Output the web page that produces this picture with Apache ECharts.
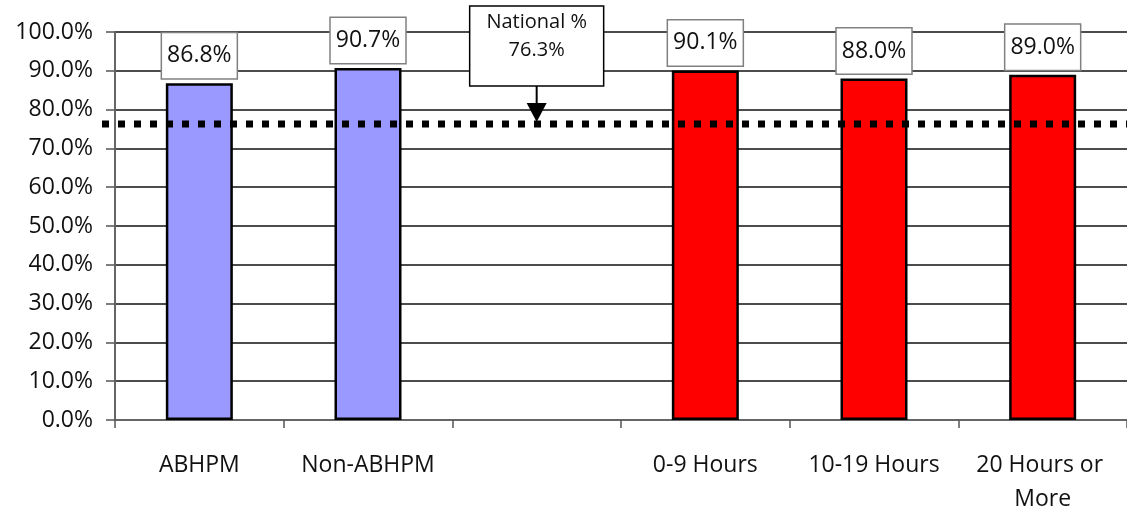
<!DOCTYPE html>
<html>
<head>
<meta charset="utf-8">
<script src="https://cdn.jsdelivr.net/npm/echarts@6/dist/echarts.min.js"></script>
<style>
  html, body { margin: 0; padding: 0; background: #fff; }
  #chart { width: 1127px; height: 509px; }
</style>
</head>
<body>
<div id="chart"></div>
<script>
// Categories along the x axis (the third slot is an empty spacer between groups)
const categories = ['ABHPM', 'Non-ABHPM', '', '0-9 Hours', '10-19 Hours', '20 Hours or More'];
// Percentage by provider type
const providerValues = [86.8, 90.7, null, null, null, null];
// Percentage by weekly hours
const hoursValues = [null, null, null, 90.1, 88.0, 89.0];
// National reference percentage and the slot its callout sits over
const nationalValue = 76.3;
const nationalSlot = 2;
const nationalTitle = 'National %';

const FONT = '"Open Sans", "Liberation Sans", sans-serif';
const pct = v => v.toFixed(1) + '%';

const barLabel = {
  show: true,
  position: 'top',
  distance: 5,
  formatter: p => pct(p.value),
  fontFamily: FONT,
  fontSize: 23,
  color: '#111',
  backgroundColor: '#fff',
  borderColor: '#808080',
  borderWidth: 1.5,
  padding: [11, 5, 11, 5]
};

const chart = echarts.init(document.getElementById('chart'));

chart.setOption({
  animation: false,
  backgroundColor: '#fff',
  grid: { left: 115, right: 0, top: 32, bottom: 89, containLabel: false, outerBoundsMode: 'none' },
  xAxis: {
    type: 'category',
    data: categories,
    axisLine: { show: true, lineStyle: { color: '#666', width: 2 } },
    axisTick: { show: true, length: 8, lineStyle: { color: '#555', width: 1.5 } },
    axisLabel: {
      interval: 0,
      margin: 28,
      fontFamily: FONT,
      fontSize: 23,
      color: '#111',
      lineHeight: 34,
      width: 166,
      overflow: 'break'
    },
    splitLine: { show: false }
  },
  yAxis: {
    type: 'value',
    min: 0,
    max: 100,
    interval: 10,
    axisLine: { show: true, lineStyle: { color: '#666', width: 2 } },
    axisTick: { show: true, length: 9, lineStyle: { color: '#555', width: 1.5 } },
    axisLabel: {
      margin: 22,
      fontFamily: FONT,
      fontSize: 23,
      color: '#111',
      formatter: v => pct(v)
    },
    splitLine: { show: true, lineStyle: { color: '#111', width: 1.6, opacity: 1, type: 'solid' } }
  },
  series: [
    {
      name: 'Provider type',
      type: 'bar',
      data: providerValues,
      barWidth: 67,
      barGap: '-100%',
      itemStyle: { color: '#9999FF', borderColor: '#000', borderWidth: 2.5 },
      label: barLabel,
      z: 2
    },
    {
      name: 'Hours',
      type: 'bar',
      data: hoursValues,
      barWidth: 67,
      barGap: '-100%',
      itemStyle: { color: '#FF0000', borderColor: '#000', borderWidth: 2.5 },
      label: barLabel,
      z: 2
    },
    {
      // National reference: dotted line across the plot plus an arrow callout
      name: 'National',
      type: 'custom',
      data: [[nationalSlot, nationalValue]],
      clip: false,
      z: 5,
      renderItem: (params, api) => {
        const pt = api.coord([api.value(0), api.value(1)]);
        const cs = params.coordSys;
        const cx = pt[0];
        const y = pt[1];
        const boxW = 134, boxH = 80;
        const boxBottom = y - 38;
        const boxTop = boxBottom - boxH;
        return {
          type: 'group',
          children: [
            {
              type: 'line',
              shape: { x1: cs.x - 13, y1: y, x2: cs.x + cs.width, y2: y },
              style: { stroke: '#000', lineWidth: 7, lineDash: [7, 9], lineCap: 'butt' },
              z2: 1
            },
            {
              type: 'rect',
              shape: { x: cx - boxW / 2, y: boxTop, width: boxW, height: boxH },
              style: { fill: '#fff', stroke: '#000', lineWidth: 1.5 },
              z2: 2
            },
            {
              type: 'text',
              style: {
                x: cx, y: boxTop + 16, text: nationalTitle,
                align: 'center', verticalAlign: 'middle',
                font: '20px ' + FONT, fill: '#111'
              },
              z2: 3
            },
            {
              type: 'text',
              style: {
                x: cx, y: boxTop + 44, text: pct(api.value(1)),
                align: 'center', verticalAlign: 'middle',
                font: '20px ' + FONT, fill: '#111'
              },
              z2: 3
            },
            {
              type: 'line',
              shape: { x1: cx, y1: boxBottom, x2: cx, y2: y - 20 },
              style: { stroke: '#000', lineWidth: 2 },
              z2: 2
            },
            {
              type: 'polygon',
              shape: { points: [[cx - 10, y - 21], [cx + 10, y - 21], [cx, y - 2]] },
              style: { fill: '#000' },
              z2: 2
            }
          ]
        };
      }
    }
  ]
});
</script>
</body>
</html>
